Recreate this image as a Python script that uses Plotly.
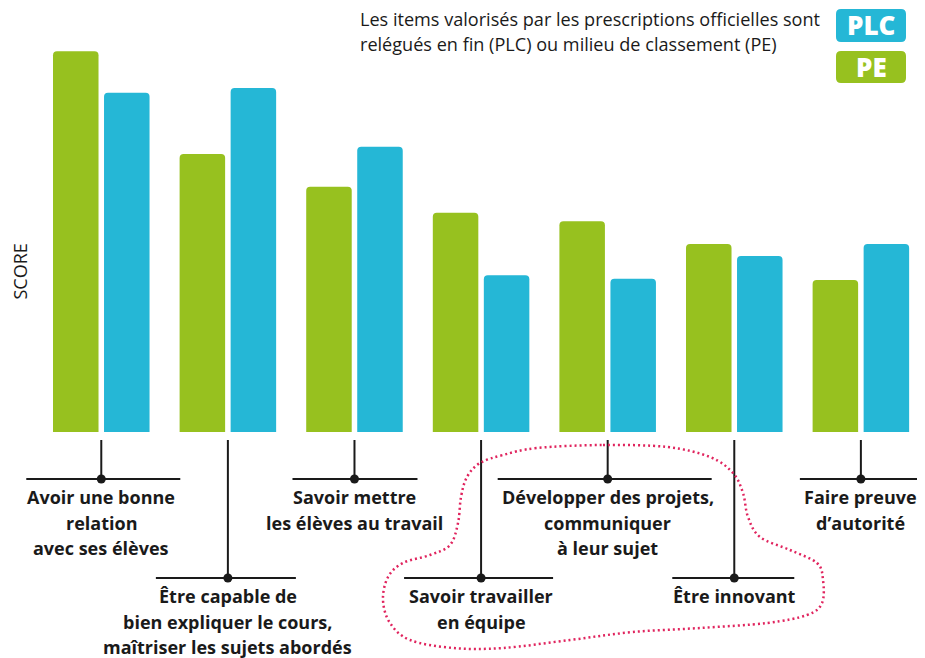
import plotly.graph_objects as go

# ---------------- data ----------------
categories = [
    "Avoir une bonne<br>relation<br>avec ses élèves",
    "Être capable de<br>bien expliquer le cours,<br>maîtriser les sujets abordés",
    "Savoir mettre<br>les élèves au travail",
    "Savoir travailler<br>en équipe",
    "Développer des projets,<br>communiquer<br>à leur sujet",
    "Être innovant",
    "Faire preuve<br>d’autorité",
]
pe_scores = [9.52, 6.95, 6.13, 5.48, 5.27, 4.70, 3.80]
plc_scores = [8.48, 8.60, 7.13, 3.92, 3.83, 4.40, 4.70]
series_names = ["PE", "PLC"]
title_lines = [
    "Les items valorisés par les prescriptions officielles sont",
    "relégués en fin (PLC) ou milieu de classement (PE)",
]
y_title = "SCORE"

# ---------------- style ----------------
GREEN = "#97c11f"
BLUE = "#25b7d6"
INK = "#1a1a1a"
RED = "#e0245e"
FONT = "Open Sans"
OFF = 8                     # page body margin of the browser
W, H = 925 - OFF, 658 - OFF
BASE_REF = 432              # baseline row in reference pixels
L = 20 - OFF
T = 32 - OFF
R = 5
PW = W - L - R
PH = BASE_REF - OFF - T
B = H - (BASE_REF - OFF)

def px(p):
    """reference pixel column -> paper x"""
    return (p - OFF - L) / PW

def py(p):
    """reference pixel row -> paper y"""
    return (BASE_REF - p) / PH

idx = list(range(len(categories)))

fig = go.Figure()
fig.add_trace(go.Bar(x=idx, y=pe_scores, name=series_names[0],
                     marker=dict(color=GREEN, line=dict(width=0))))
fig.add_trace(go.Bar(x=idx, y=plc_scores, name=series_names[1],
                     marker=dict(color=BLUE, line=dict(width=0))))

shapes = []
annotations = []

# leader lines, dots and category labels
row_y = [479, 578]            # reference pixel rows of the horizontal rules
half_left = [75, 72, 62, 77, 110, 62, 61]
half_right = [79, 68, 63, 72, 104, 60, 57]
LINE_STEP = 25.5
label_font = dict(family=FONT, size=18, color=INK, weight=700)
for i, cat in enumerate(categories):
    ry = row_y[i % 2]
    shapes.append(dict(type="line", xref="x", yref="paper", x0=i, x1=i,
                       y0=py(440), y1=py(ry), line=dict(color=INK, width=2)))
    shapes.append(dict(type="line", xref="x", yref="paper", xsizemode="pixel",
                       xanchor=i, x0=-half_left[i], x1=half_right[i],
                       y0=py(ry), y1=py(ry), line=dict(color=INK, width=2)))
    shapes.append(dict(type="circle", xref="x", yref="paper", xsizemode="pixel",
                       ysizemode="pixel", xanchor=i, yanchor=py(ry),
                       x0=-4.5, x1=4.5, y0=-4.5, y1=4.5,
                       fillcolor=INK, line=dict(width=0)))
    for j, part in enumerate(cat.split("<br>")):
        annotations.append(dict(x=i, y=py(ry + 18 + LINE_STEP * j), xref="x",
                                yref="paper", text=part, showarrow=False,
                                xanchor="center", yanchor="middle",
                                font=label_font))

# dotted highlight curve (decorative)
curve_px = [(603, 445), (667, 447), (710, 457), (733, 473), (743, 493), (748, 517),
            (760, 537), (790, 550), (817, 563), (823, 580), (822, 603), (807, 615),
            (767, 623), (700, 628), (633, 632), (570, 640), (503, 648), (453, 648),
            (410, 640), (390, 623), (383, 600), (388, 577), (403, 563), (430, 555),
            (450, 545), (458, 523), (461, 497), (467, 477), (480, 463), (503, 455),
            (537, 448)]
pts = [(px(a), py(b)) for a, b in curve_px]
n = len(pts)
path = "M %.5f,%.5f" % pts[0]
for k in range(n):
    p0 = pts[(k - 1) % n]
    p1 = pts[k]
    p2 = pts[(k + 1) % n]
    p3 = pts[(k + 2) % n]
    c1 = (p1[0] + (p2[0] - p0[0]) / 6, p1[1] + (p2[1] - p0[1]) / 6)
    c2 = (p2[0] - (p3[0] - p1[0]) / 6, p2[1] - (p3[1] - p1[1]) / 6)
    path += " C %.5f,%.5f %.5f,%.5f %.5f,%.5f" % (c1 + c2 + p2)
path += " Z"
shapes.append(dict(type="path", xref="paper", yref="paper", path=path,
                   line=dict(color=RED, width=2.5, dash="2px,3px")))

# custom legend: rounded boxes
def rrect(x0, y0, x1, y1, r):
    segs = [
        ("M", [(x0 + r, y0)]),
        ("L", [(x1 - r, y0)]), ("Q", [(x1, y0), (x1, y0 + r)]),
        ("L", [(x1, y1 - r)]), ("Q", [(x1, y1), (x1 - r, y1)]),
        ("L", [(x0 + r, y1)]), ("Q", [(x0, y1), (x0, y1 - r)]),
        ("L", [(x0, y0 + r)]), ("Q", [(x0, y0), (x0 + r, y0)]),
    ]
    s = ""
    for cmd, pp in segs:
        s += cmd + " " + " ".join("%.5f,%.5f" % (px(a), py(b)) for a, b in pp) + " "
    return s + "Z"

legend_boxes = [(series_names[1], BLUE, 9, 42), (series_names[0], GREEN, 51, 83)]
for name, col, y0, y1 in legend_boxes:
    shapes.append(dict(type="path", xref="paper", yref="paper",
                       path=rrect(836, y0, 906, y1, 5), fillcolor=col,
                       line=dict(width=0)))
    annotations.append(dict(x=px(871), y=py((y0 + y1) / 2), xref="paper", yref="paper",
                            text=name, showarrow=False, xanchor="center",
                            yanchor="middle",
                            font=dict(family=FONT, size=26, color="white",
                                      weight=800)))

# title lines
for j, line in enumerate(title_lines):
    annotations.append(dict(x=px(358), y=py(19 + 25 * j), xref="paper", yref="paper",
                            text=line, showarrow=False, xanchor="left",
                            yanchor="middle",
                            font=dict(family=FONT, size=18.1, color=INK)))

# y axis label
annotations.append(dict(x=px(19.5), y=py(272), xref="paper", yref="paper",
                        text=y_title, showarrow=False, textangle=-90,
                        xanchor="center", yanchor="middle",
                        font=dict(family=FONT, size=18, color=INK)))

fig.update_layout(
    width=W, height=H,
    margin=dict(l=L, r=R, t=T, b=B),
    paper_bgcolor="white", plot_bgcolor="white",
    barmode="group", bargap=0.194, bargroupgap=0.108, barcornerradius=4,
    showlegend=False,
    xaxis=dict(range=[-0.642, 6.467], visible=False, fixedrange=True),
    yaxis=dict(range=[0, 10], visible=False, fixedrange=True),
    shapes=shapes,
    annotations=annotations,
    font=dict(family=FONT, color=INK),
)

fig.write_html("out.html")
